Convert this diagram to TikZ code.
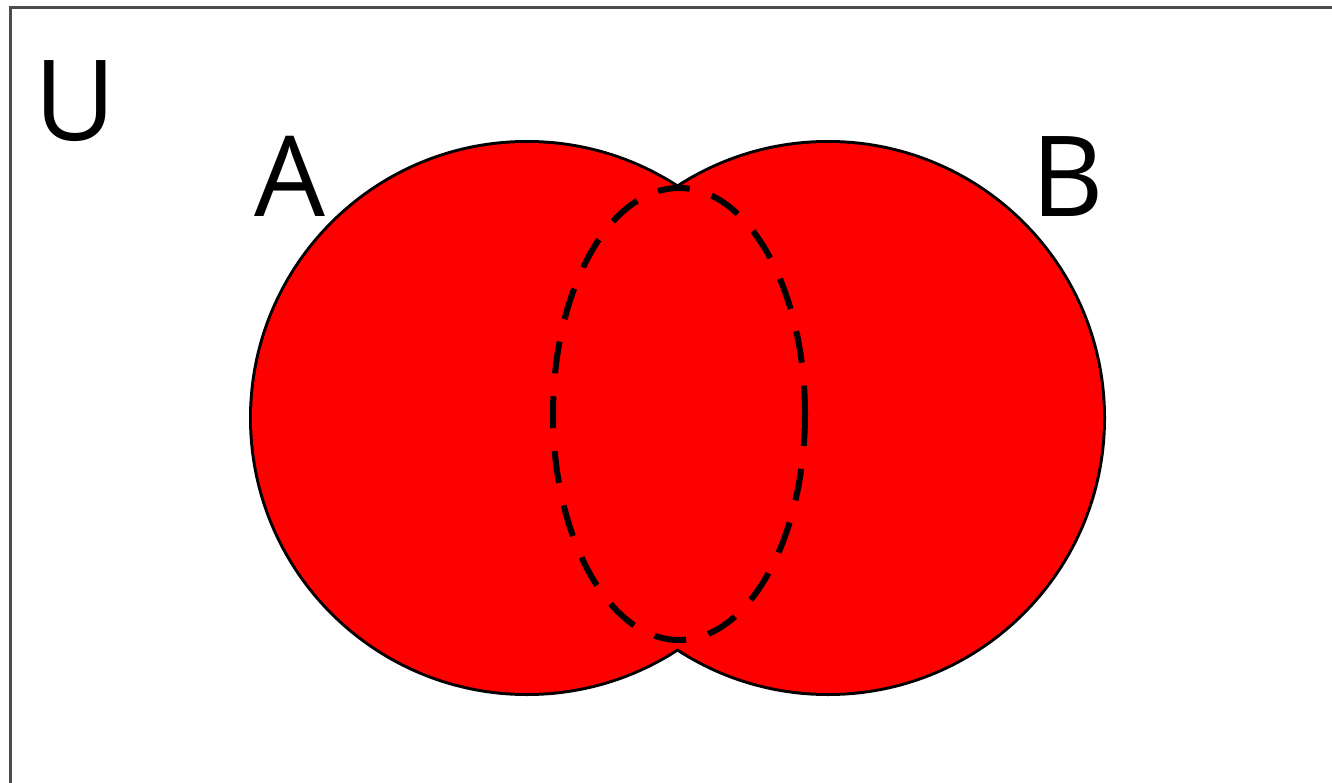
\documentclass[tikz,border=0pt]{standalone}
\usepackage{fontspec}
\setmainfont{Open Sans}
\begin{document}
\begin{tikzpicture}[x=1pt,y=-1pt,
  frame/.style={draw=black!70, line width=3pt},
  setoutline/.style={draw=black, line width=6pt},
  setfill/.style={fill=red},
  inter/.style={draw=black, line width=6pt, dash pattern=on 32pt off 23pt},
  lbl/.style={inner sep=0pt, font=\fontsize{112}{112}\selectfont}]
\useasboundingbox (0,0) rectangle (1332,783);
\clip (0,0) rectangle (1332,783);
\fill[white] (0,0) rectangle (1332,783);
\draw[frame] (10,8) rectangle (1360,810);
\coordinate (cA) at (527,418);
\coordinate (cB) at (828,418);
\coordinate (cI) at (679,414);
% outlines first, then fills cover the inner half
\draw[setoutline] (cA) circle[radius=275];
\draw[setoutline] (cB) circle[radius=275];
\fill[setfill] (cA) circle[radius=275];
\fill[setfill] (cB) circle[radius=275];
\draw[inter] (cI) ellipse[x radius=126, y radius=226];
\node[lbl] (U) at (75,101) {U};
\node[lbl] (A) at (290,176) {A};
\node[lbl] (B) at (1068,177) {B};
\end{tikzpicture}
\end{document}
